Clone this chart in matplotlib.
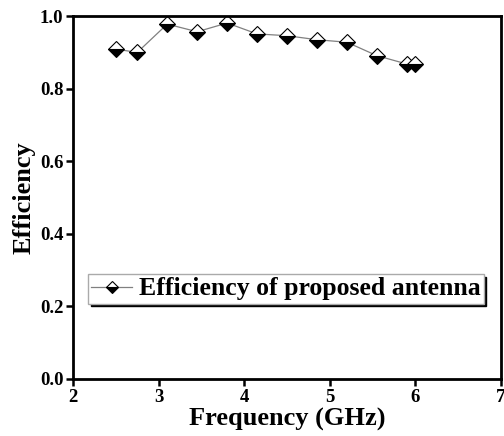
import numpy as np
import matplotlib
matplotlib.use("Agg")
import matplotlib.pyplot as plt

# values
freq = [2.5, 2.75, 3.1, 3.45, 3.8, 4.15, 4.5, 4.85, 5.2, 5.55, 5.9, 6.0]
efficiency = [0.909, 0.900, 0.978, 0.957, 0.981, 0.951, 0.946, 0.935,
              0.928, 0.891, 0.868, 0.868]
x_ticks = [2, 3, 4, 5, 6, 7]
y_ticks = [0.0, 0.2, 0.4, 0.6, 0.8, 1.0]
label = "Efficiency of proposed antenna"

plt.rcParams['font.family'] = ['Liberation Serif', 'DejaVu Serif']
plt.rcParams['font.weight'] = 'bold'

fig = plt.figure(figsize=(5.04, 4.36), dpi=100)
ax = fig.add_axes([0.145, 0.131, 0.849, 0.832])

ax.plot(freq, efficiency, color="#808080", linewidth=0.9,
        marker="D", markersize=8, fillstyle="bottom",
        markerfacecolor="black", markerfacecoloralt="white",
        markeredgecolor="black", markeredgewidth=0.8, label=label)

ax.set_xlim(2, 7)
ax.set_ylim(0, 1.0)
ax.set_xticks(x_ticks)
ax.set_yticks(y_ticks)
ax.set_yticklabels([f"{v:.1f}" for v in y_ticks])
ax.tick_params(direction="out", length=5, width=1.8, labelsize=13.5, pad=2)
for s in ax.spines.values():
    s.set_linewidth(2)

ax.set_xlabel("Frequency (GHz)", fontsize=19, fontweight="bold", labelpad=2)
ax.set_ylabel("Efficiency", fontsize=19, fontweight="bold", labelpad=3)

leg = ax.legend(loc="upper left", bbox_to_anchor=(0.035, 0.288),
                fontsize=18.5, frameon=True, fancybox=False,
                shadow={"color": "black", "alpha": 1.0},
                borderpad=0.12, handlelength=1.6, handletextpad=0.25,
                borderaxespad=0, markerscale=0.8)
leg.get_frame().set_edgecolor("#aaaaaa")
leg.get_frame().set_linewidth(1)

fig.savefig("out.png", dpi=100)
